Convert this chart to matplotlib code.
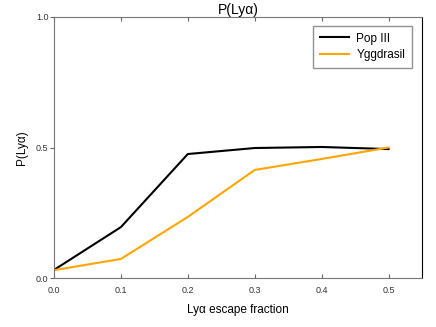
import matplotlib
matplotlib.use("Agg")
import matplotlib.pyplot as plt

escape_fraction = [0.0, 0.1, 0.2, 0.3, 0.4, 0.5]
pop3 = [0.031, 0.195, 0.475, 0.498, 0.502, 0.494]
yggdrasil = [0.030, 0.073, 0.234, 0.414, 0.456, 0.500]
xticks = [0.0, 0.1, 0.2, 0.3, 0.4, 0.5]
yticks = [0.0, 0.5, 1.0]

plt.rcParams['font.family'] = ['Liberation Sans', 'DejaVu Sans']
fig = plt.figure(figsize=(4.36, 3.27), dpi=100)
ax = fig.add_axes([54/436, 1-278/327, (422-54)/436, (278-17)/327])

ax.plot(escape_fraction, pop3, color='black', lw=1.5, label='Pop III')
ax.plot(escape_fraction, yggdrasil, color='#FFA500', lw=1.5, label='Yggdrasil')

ax.set_xlim(0, 0.55)
ax.set_ylim(0, 1.0)
ax.set_xticks(xticks)
ax.set_xticklabels([f"{v:.1f}" for v in xticks], fontsize=6.5, color='#333333')
ax.set_yticks(yticks)
ax.set_yticklabels([f"{v:.1f}" for v in yticks], fontsize=6.5, color='#333333')
ax.tick_params(axis='x', direction='in', top=True, length=3, color='#666666', pad=6)
ax.tick_params(axis='y', direction='out', length=3, color='#666666', pad=1)
for s in ['left', 'bottom', 'top']:
    ax.spines[s].set_color('#777777')
ax.spines['right'].set_color('black')

ax.set_title('P(Lyα)', fontsize=10, pad=2)
ax.set_xlabel('Lyα escape fraction', fontsize=8.5, labelpad=6)
ax.set_ylabel('P(Lyα)', fontsize=8.5, labelpad=6)

leg = ax.legend(loc='upper right', fontsize=8.5, fancybox=False, edgecolor='#777777',
                borderpad=0.6, handlelength=2.5, handletextpad=0.6, labelspacing=0.35,
                bbox_to_anchor=(0.99, 0.99))
leg.get_frame().set_linewidth(1.0)

fig.savefig('out.png', dpi=100)
